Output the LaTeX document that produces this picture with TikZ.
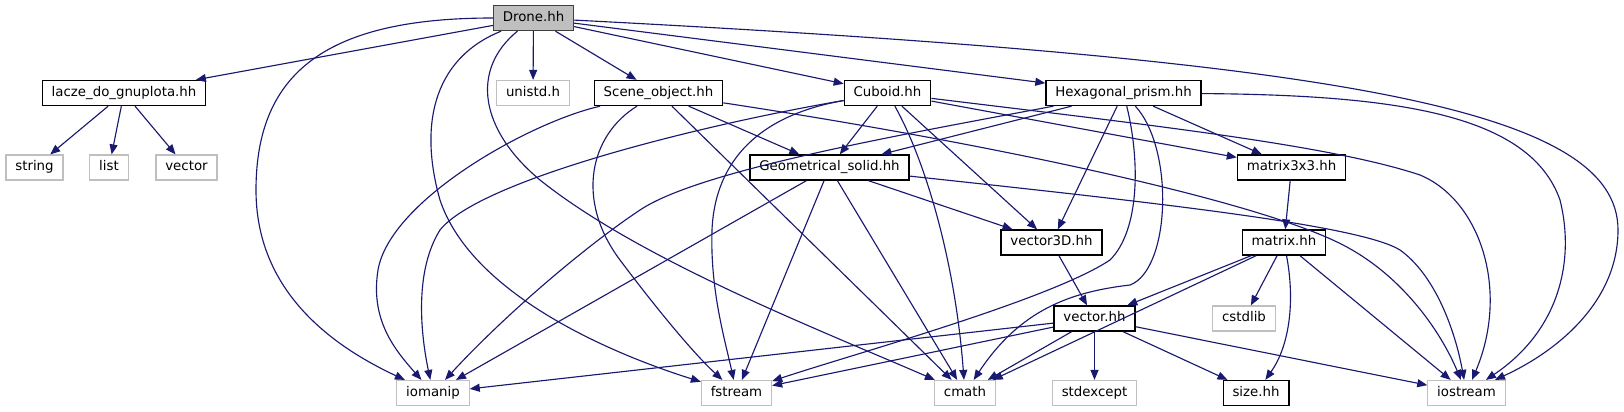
\documentclass[tikz,border=0pt]{standalone}
\usepackage{fontspec}
\setmainfont{DejaVu Sans}
\usetikzlibrary{arrows.meta}
\definecolor{link}{RGB}{25,25,112}
\definecolor{frame}{RGB}{191,191,191}
\definecolor{rootfill}{RGB}{191,191,191}
\definecolor{rootline}{RGB}{64,64,64}

\begin{document}
\begin{tikzpicture}[x=0.75pt,y=-0.75pt,font=\fontsize{10}{12}\selectfont,
  hdr/.style={draw=black,line width=1pt,fill=white,minimum height=18.75pt,inner xsep=7pt,inner ysep=0pt,text height=7.5pt,text depth=2.3pt,text=black},
  sys/.style={hdr,draw=frame,line width=0.9pt},
  root/.style={hdr,fill=rootfill,draw=rootline},
  a/.style={-{Triangle[length=7.5pt,width=6pt]},line width=0.85pt,color=link}]
  \useasboundingbox (0,0) rectangle (1624,411);
  % row 1 and 2
  \node[root] (drone) at (533.5,18) {Drone.hh};
  \node[hdr] (lacze) at (124,93) {lacze\_do\_gnuplota.hh};
  \node[sys] (unistd) at (533,93) {unistd.h};
  \node[hdr] (scene) at (658.5,93) {Scene\_object.hh};
  \node[hdr] (cuboid) at (887.5,93) {Cuboid.hh};
  \node[hdr] (hexa) at (1123.5,93) {Hexagonal\_prism.hh};
  % row 3 and 4
  \node[sys] (string) at (34.5,167.5) {string};
  \node[sys] (list) at (109,167.5) {list};
  \node[sys] (vectorstd) at (186.5,167.5) {vector};
  \node[hdr] (geom) at (829.5,167.5) {Geometrical\_solid.hh};
  \node[hdr] (mat3) at (1291.5,167.5) {matrix3x3.hh};
  \node[hdr] (vec3d) at (1051.5,242.5) {vector3D.hh};
  \node[hdr] (matrix) at (1284,242.5) {matrix.hh};
  % row 5 and 6
  \node[hdr] (vec) at (1094.5,318.5) {vector.hh};
  \node[sys] (cstdlib) at (1244,318.5) {cstdlib};
  \node[sys] (iomanip) at (433,393) {iomanip};
  \node[sys] (fstream) at (736.5,393) {fstream};
  \node[sys] (cmath) at (965,393) {cmath};
  \node[sys] (stdexcept) at (1094.5,393) {stdexcept};
  \node[hdr] (size) at (1256,393) {size.hh};
  \node[sys] (iostream) at (1466.5,393) {iostream};
  % straight edges
  \draw[a] (drone)--(lacze);
  \draw[a] (drone)--(unistd);
  \draw[a] (drone)--(scene);
  \draw[a] (drone)--(cuboid);
  \draw[a] (drone)--(hexa);
  \draw[a] (lacze)--(string);
  \draw[a] (lacze)--(list);
  \draw[a] (lacze)--(vectorstd);
  \draw[a] (scene)--(geom);
  \draw[a] (scene)--(cmath);
  \draw[a] (cuboid)--(geom);
  \draw[a] (cuboid)--(vec3d);
  \draw[a] (cuboid)--(mat3);
  \draw[a] (hexa)--(geom);
  \draw[a] (hexa)--(vec3d);
  \draw[a] (hexa)--(mat3);
  \draw[a] (geom)--(iomanip);
  \draw[a] (geom)--(fstream);
  \draw[a] (geom)--(cmath);
  \draw[a] (geom)--(vec3d);
  \draw[a] (mat3)--(matrix);
  \draw[a] (vec3d)--(vec);
  \draw[a] (matrix)--(vec);
  \draw[a] (matrix)--(cstdlib);
  \draw[a] (matrix)--(cmath);
  \draw[a] (matrix)--(iostream);
  \draw[a] (vec)--(iomanip);
  \draw[a] (vec)--(fstream);
  \draw[a] (vec)--(cmath);
  \draw[a] (vec)--(stdexcept);
  \draw[a] (vec)--(size);
  \draw[a] (vec)--(iostream);
  % curved edges
  \draw[a] (drone) .. controls (330,18) and (256,70) .. (256,190) .. controls (256,290) and (330,345) .. (iomanip);
  \draw[a] (drone) .. controls (430,60) and (420,130) .. (440,200) .. controls (470,290) and (600,350) .. (fstream);
  \draw[a] (drone) .. controls (470,70) and (480,130) .. (540,180) .. controls (640,260) and (820,330) .. (cmath);
  \draw[a] (drone) .. controls (1350,60) and (1618,110) .. (1618,230) .. controls (1618,300) and (1560,350) .. (iostream);
  \draw[a] (scene) .. controls (530,122) and (390,200) .. (378,270) .. controls (370,320) and (395,350) .. (iomanip);
  \draw[a] (scene) .. controls (590,135) and (575,200) .. (620,260) .. controls (650,300) and (690,350) .. (fstream);
  \draw[a] (scene) .. controls (1000,145) and (1250,200) .. (1337,242) .. controls (1400,272) and (1440,330) .. (iostream);
  \draw[a] (cuboid) .. controls (700,125) and (480,180) .. (440,230) .. controls (415,270) and (420,330) .. (iomanip);
  \draw[a] (cuboid) .. controls (760,115) and (715,160) .. (712,230) .. controls (710,290) and (725,340) .. (fstream);
  \draw[a] (cuboid) .. controls (925,160) and (955,260) .. (cmath);
  \draw[a] (cuboid) .. controls (1150,125) and (1330,145) .. (1420,175) .. controls (1480,200) and (1510,290) .. (iostream);
  \draw[a] (hexa) .. controls (900,135) and (700,170) .. (640,210) .. controls (580,250) and (500,320) .. (iomanip);
  \draw[a] (hexa) .. controls (1140,160) and (1140,230) .. (1110,260) .. controls (1050,300) and (850,355) .. (fstream);
  \draw[a] (hexa) .. controls (1175,150) and (1170,270) .. (1130,285) .. controls (1070,292) and (1020,310) .. (cmath);
  \draw[a] (hexa) .. controls (1400,95) and (1530,115) .. (1560,200) .. controls (1575,260) and (1560,330) .. (iostream);
  \draw[a] (geom) .. controls (1150,202) and (1360,225) .. (1400,250) .. controls (1435,275) and (1455,330) .. (iostream);
  \draw[a] (matrix) .. controls (1295,300) and (1290,345) .. (size);
\end{tikzpicture}
\end{document}
